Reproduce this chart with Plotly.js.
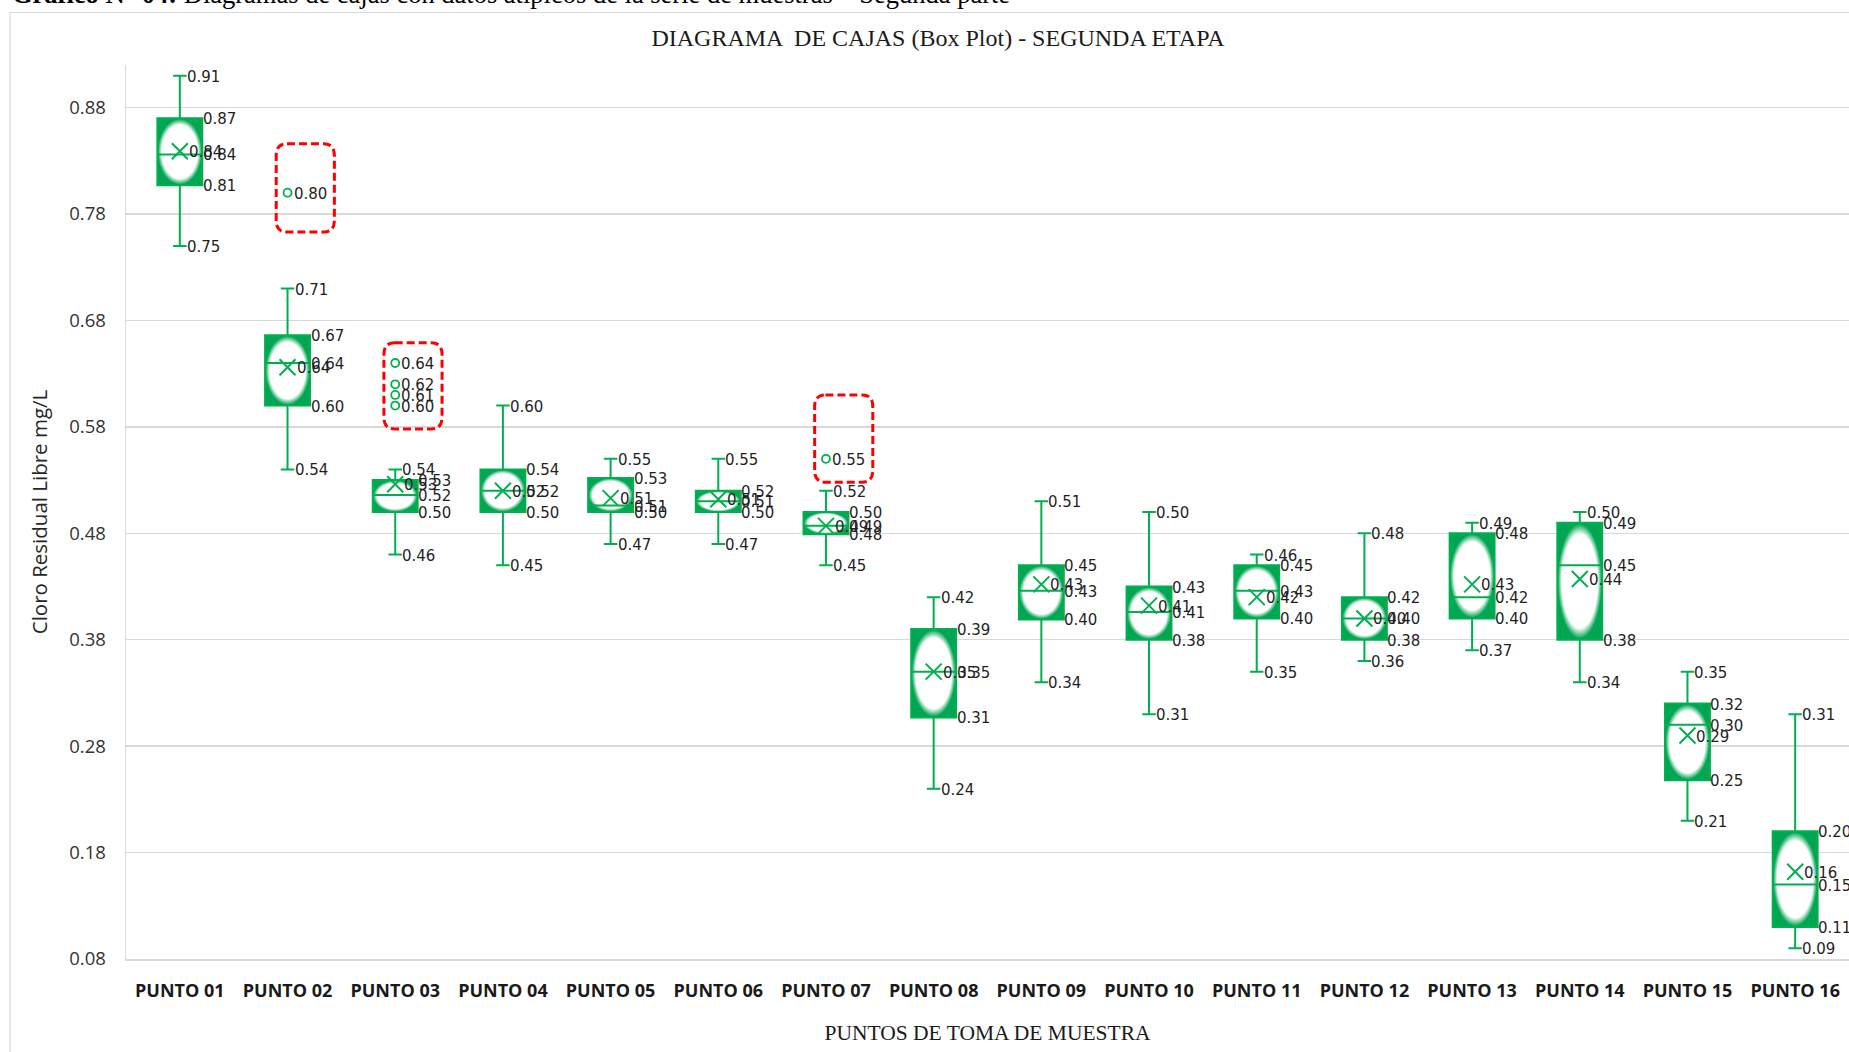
<!DOCTYPE html>
<html>
<head>
<meta charset="utf-8">
<script src="https://cdn.plot.ly/plotly-3.0.1.min.js"></script>
<style>
html,body{margin:0;padding:0;background:#ffffff;overflow:hidden}
#chart{width:1849px;height:1052px}
</style>
</head>
<body>
<div id="chart"></div>
<script>
// ---------- DATA ----------
const categories = ['PUNTO 01','PUNTO 02','PUNTO 03','PUNTO 04','PUNTO 05','PUNTO 06','PUNTO 07','PUNTO 08',
                    'PUNTO 09','PUNTO 10','PUNTO 11','PUNTO 12','PUNTO 13','PUNTO 14','PUNTO 15','PUNTO 16'];
const lowerWhisker = [0.75,0.54,0.46,0.45,0.47,0.47,0.45,0.24,0.34,0.31,0.35,0.36,0.37,0.34,0.21,0.09];
const q1Values     = [0.807,0.60,0.50,0.50,0.50,0.50,0.479,0.307,0.399,0.38,0.40,0.38,0.40,0.38,0.248,0.11];
const medianValues = [0.836,0.64,0.516,0.52,0.506,0.51,0.487,0.35,0.426,0.406,0.426,0.40,0.42,0.45,0.30,0.15];
const q3Values     = [0.87,0.666,0.53,0.54,0.532,0.52,0.50,0.39,0.45,0.43,0.45,0.42,0.48,0.49,0.32,0.20];
const upperWhisker = [0.91,0.71,0.54,0.60,0.55,0.55,0.52,0.42,0.51,0.50,0.46,0.48,0.49,0.50,0.35,0.31];
const meanValues   = [0.839,0.636,0.526,0.52,0.513,0.512,0.487,0.35,0.432,0.412,0.42,0.40,0.432,0.437,0.29,0.162];
const outlierValues = [[],[0.80],[0.64,0.62,0.61,0.60],[],[],[],[0.55],[],[],[],[],[],[],[],[],[]];
const yTickValues = [0.08,0.18,0.28,0.38,0.48,0.58,0.68,0.78,0.88];
// highlighted outlier groups (red dashed frames): category index
const highlightCats = [1,2,6];

// ---------- STYLE ----------
const GREEN_LINE = '#00B050';
const GREEN_FILL = '#00A651';
const BOX_W = 0.417;           // box width in category units
const LABEL_FONT = {family:'DejaVu Sans', size:15, color:'#1f1f1f'};
const idx = categories.map((c,i)=>i);

const traces = [];

// gradient bodies (base axes, drawn beneath the box outlines)
idx.forEach(i=>{
  const h = BOX_W/2;
  traces.push({
    type:'scatter', mode:'lines', xaxis:'x', yaxis:'y',
    x:[i-h,i+h,i+h,i-h,i-h],
    y:[q1Values[i],q1Values[i],q3Values[i],q3Values[i],q1Values[i]],
    fill:'toself', line:{width:0, color:GREEN_FILL},
    fillgradient:{type:'radial', colorscale:[[0,'#ffffff'],[0.8,'#ffffff'],[0.98,GREEN_FILL],[1,GREEN_FILL]]},
    hoverinfo:'skip', showlegend:false
  });
});

// box plot (overlay axes so that it sits above the gradient)
traces.push({
  type:'box', xaxis:'x2', yaxis:'y2', orientation:'v',
  x: idx, q1:q1Values, median:medianValues, q3:q3Values,
  lowerfence:lowerWhisker, upperfence:upperWhisker,
  width:BOX_W, whiskerwidth:0.3,
  fillcolor:'rgba(0,0,0,0)', line:{color:GREEN_LINE, width:2},
  boxpoints:false, hoverinfo:'skip', showlegend:false
});

// mean markers
traces.push({
  type:'scatter', mode:'markers', xaxis:'x2', yaxis:'y2',
  x: idx, y: meanValues,
  marker:{symbol:'x-thin-open', size:16, color:GREEN_LINE, line:{color:GREEN_LINE, width:2}},
  hoverinfo:'skip', showlegend:false
});

// outliers
const outX = [], outY = [];
outlierValues.forEach((arr,i)=>arr.forEach(v=>{outX.push(i); outY.push(v);}));
traces.push({
  type:'scatter', mode:'markers', xaxis:'x2', yaxis:'y2',
  x: outX, y: outY,
  marker:{symbol:'circle-open', size:8, color:GREEN_LINE, line:{color:GREEN_LINE, width:1.8}},
  hoverinfo:'skip', showlegend:false
});

// ---------- data labels ----------
const annotations = [];
function lab(x, y, shift){
  annotations.push({x:x, y:y, xref:'x', yref:'y', text:y.toFixed(2), showarrow:false,
    xanchor:'left', yanchor:'middle', xshift:shift, yshift:-1, font:LABEL_FONT});
}
idx.forEach(i=>{
  lab(i, upperWhisker[i], 5);
  lab(i, q3Values[i], 21);
  lab(i, medianValues[i], 21);
  lab(i, meanValues[i], 7);
  lab(i, q1Values[i], 21);
  lab(i, lowerWhisker[i], 5);
});
outX.forEach((x,k)=>lab(x, outY[k], 4));

// header line of the page (cut at the top)
annotations.push({
  xref:'paper', yref:'paper', x:-0.0675, y:1.0605, xanchor:'left', yanchor:'bottom',
  showarrow:false, text:'<b>Gráfico N° 04:</b> Diagramas de cajas con datos atípicos de la serie de muestras – Segunda parte',
  font:{family:'Liberation Serif', size:26.5, color:'#000000'}
});

// ---------- shapes ----------
function roundedRect(x0,x1,y0,y1,rx,ry){
  return 'M'+(x0+rx)+','+y1+' L'+(x1-rx)+','+y1+' Q'+x1+','+y1+' '+x1+','+(y1-ry)+
         ' L'+x1+','+(y0+ry)+' Q'+x1+','+y0+' '+(x1-rx)+','+y0+
         ' L'+(x0+rx)+','+y0+' Q'+x0+','+y0+' '+x0+','+(y0+ry)+
         ' L'+x0+','+(y1-ry)+' Q'+x0+','+y1+' '+(x0+rx)+','+y1+' Z';
}
const shapes = [];
// chart frame
shapes.push({type:'rect', xref:'paper', yref:'paper', x0:-0.0673, x1:1.2, y0:-0.4, y1:1.0587,
  line:{color:'#d9d9d9', width:1.2}, fillcolor:'rgba(0,0,0,0)', layer:'below'});
// red dashed frames around the outliers
highlightCats.forEach(i=>{
  const vals = outlierValues[i];
  const top = Math.max(...vals), bot = Math.min(...vals);
  const padTop = i===6 ? 0.06 : (i===1 ? 0.046 : 0.019);
  const padBot = i===1 ? 0.037 : 0.022;
  shapes.push({type:'path', xref:'x', yref:'y',
    path: roundedRect(i-0.105, i+0.435, bot-padBot, top+padTop, 0.1, 0.011),
    line:{color:'#FF0000', width:3, dash:'8px,4px'}, fillcolor:'rgba(0,0,0,0)', layer:'above'});
});

const layout = {
  width:1849, height:1052,
  margin:{l:126, r:0, t:65, b:93, pad:0},
  paper_bgcolor:'#ffffff', plot_bgcolor:'#ffffff',
  showlegend:false, hovermode:false,
  font:{family:'Open Sans', color:'#333333'},
  title:{text:'DIAGRAMA  DE CAJAS (Box Plot) - SEGUNDA ETAPA', xref:'paper', x:0.4713, xanchor:'center',
         yref:'container', y:0.9639, yanchor:'middle',
         font:{family:'Liberation Serif', size:24, color:'#1a1a1a'}},
  xaxis:{type:'linear', range:[-0.5,15.5], tickvals:idx, ticktext:categories,
         showgrid:false, zeroline:false, showline:true, linecolor:'#d9d9d9', linewidth:1.5,
         ticks:'', ticklabelstandoff:15,
         tickfont:{family:'Open Sans', size:18, weight:700, color:'#1a1a1a'},
         title:{text:'PUNTOS DE TOMA DE MUESTRA', standoff:24,
                font:{family:'Liberation Serif', size:21.5, color:'#1a1a1a'}}},
  yaxis:{range:[0.08,0.92], tickvals:yTickValues, tickformat:'.2f',
         showgrid:true, gridcolor:'#d9d9d9', gridwidth:1.5, zeroline:false,
         showline:true, linecolor:'#d9d9d9', linewidth:1.5, ticks:'', ticklabelstandoff:15,
         tickfont:{family:'Open Sans', size:18.5, color:'#333333'},
         title:{text:'Cloro Residual Libre mg/L', standoff:16,
                font:{family:'Open Sans', size:20.5, color:'#262626'}}},
  xaxis2:{overlaying:'x', range:[-0.5,15.5], visible:false},
  yaxis2:{overlaying:'y', range:[0.08,0.92], visible:false},
  annotations:annotations,
  shapes:shapes
};

Plotly.newPlot('chart', traces, layout, {staticPlot:true, displayModeBar:false});
</script>
</body>
</html>
